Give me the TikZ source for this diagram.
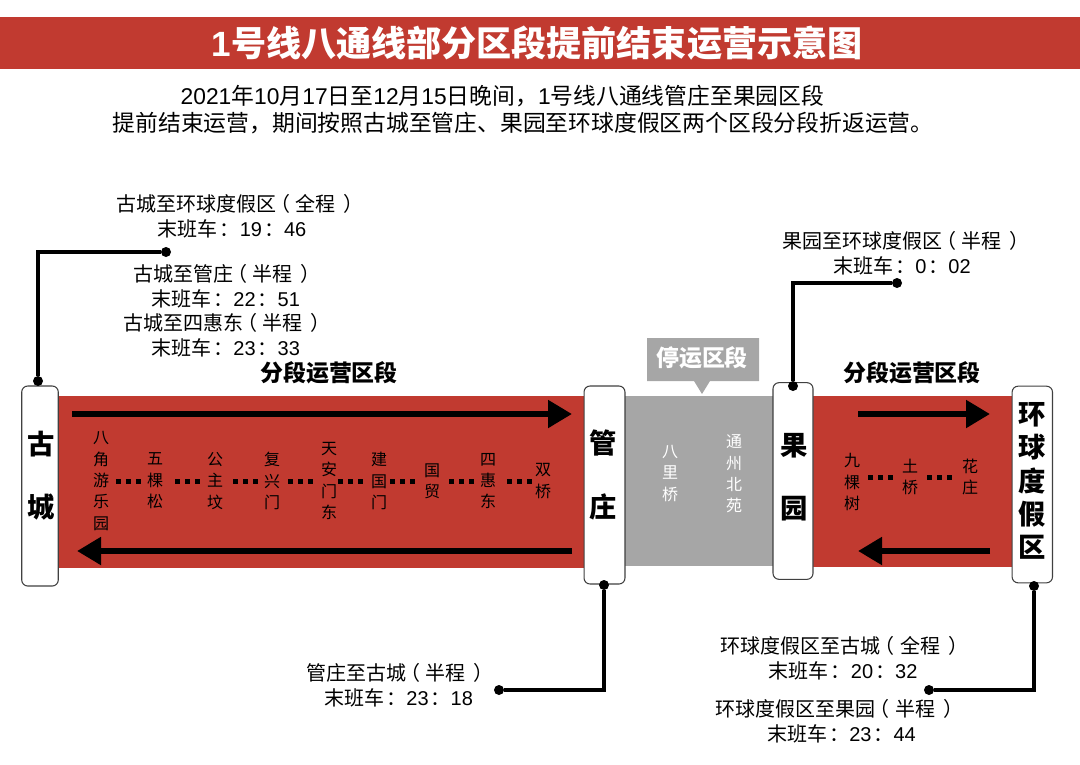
\documentclass[tikz,border=0pt]{standalone}
\usepackage{fontspec}
\setmainfont{Noto Sans CJK SC}
\newfontfamily\latinfont{Liberation Sans}
\usetikzlibrary{arrows.meta,positioning,calc}
\definecolor{bandred}{HTML}{C13A30}
\definecolor{stopgray}{HTML}{A6A6A6}
\newcommand{\nm}[1]{{\latinfont #1}}
\newcommand{\lp}{\kern-.28em（\kern.28em}
\newcommand{\rp}{\kern.38em）\kern-.38em}
\newcommand{\cln}{\kern.1em：}
\tikzset{
	band/.style={fill=bandred,draw=none},
	terminal/.style={draw=black!75,fill=white,rounded corners=4.5pt,line width=0.8pt,inner sep=0pt},
	termtext/.style={align=center,font=\fontsize{20.5}{47.5}\selectfont\bfseries,inner sep=0pt},
	station/.style={align=center,font=\fontsize{12}{16}\selectfont,inner sep=0pt},
	dots/.style={line width=3.75pt,dash pattern=on 3.75pt off 3.75pt},
	runarrow/.style={line width=5.2pt,-{Triangle[length=18pt,width=20pt]}},
	lastrun/.style={align=center,font=\fontsize{15}{18.7}\selectfont},
	pin/.style={circle,fill=black,inner sep=0pt,minimum size=7.5pt},
	lead/.style={line width=2.3pt},
	section/.style={font=\fontsize{17.2}{20}\selectfont\bfseries}
}
\begin{document}
\begin{tikzpicture}[x=0.75pt,y=-0.75pt]
	\useasboundingbox (0,0) rectangle (1080,764);
	% title
	\node[fill=bandred,minimum width=810pt,minimum height=39pt,inner sep=0pt,text=white,font=\fontsize{26.3}{30}\selectfont\bfseries] (title) at (540,43) {\hspace*{-4.5pt}\nm{\bfseries 1}号线八通线部分区段提前结束运营示意图};
	\node[font=\fontsize{17.1}{20.5}\selectfont,inner sep=0pt] (line1) at (502.5,96) {\nm{2021}年\nm{10}月\nm{17}日至\nm{12}月\nm{15}日晚间，\nm{1}号线八通线管庄至果园区段};
	\node[font=\fontsize{17.1}{20.5}\selectfont,inner sep=0pt] (line2) at (523,123) {提前结束运营，期间按照古城至管庄、果园至环球度假区两个区段分段折返运营。};

	% bands
	\fill[band] (58,396) rectangle (584,568);
	\fill[stopgray] (625,396) rectangle (773,566);
	\fill[band] (813,396) rectangle (1012,567);

	% terminals
	\node[terminal,minimum width=27.4pt,minimum height=150pt] (gucheng) at (40,486) {};
	\node[terminal,minimum width=30.7pt,minimum height=148.5pt] (guanzhuang) at (604.5,485) {};
	\node[terminal,minimum width=30pt,minimum height=147.5pt] (guoyuan) at (793,481) {};
	\node[terminal,minimum width=30.3pt,minimum height=147.5pt] (huanqiu) at (1032.3,484.5) {};
	\node[termtext] (gucheng-name) at (41,475.5) {古\\城};
	\node[termtext] (guanzhuang-name) at (603,475) {管\\庄};
	\node[termtext] (guoyuan-name) at (794,477) {果\\园};
	\node[termtext,font=\fontsize{20.5}{25}\selectfont\bfseries] (huanqiu-name) at (1032,481) {环\\球\\度\\假\\区};

	% stations
	\foreach \name/\px/\py/\label in {s1/101/481/{八\\角\\游\\乐\\园},s2/155/481/{五\\棵\\松},s3/215/481/{公\\主\\坟},s4/272/481/{复\\兴\\门},s5/329/481/{天\\安\\门\\东},s6/379/481/{建\\国\\门},s7/432/481/{国\\贸},s8/488/481/{四\\惠\\东},s9/543/481/{双\\桥},s10/852/482/{九\\棵\\树},s11/910/477/{土\\桥},s12/970/477/{花\\庄}}
		\node[station] (\name) at (\px,\py) {\label};
	\foreach \a/\b/\s/\e in {s1/s2/15/14,s2/s3/20/14,s3/s4/18/13,s4/s5/16/16,s5/s6/9/16,s6/s7/11/17,s7/s8/17/14,s8/s9/19/11,s10/s11/16/17,s11/s12/17/18}
		\draw[dots,shorten <=\s*0.75pt,shorten >=\e*0.75pt] (\a.center |- \b.center) -- (\b.center);
	\node[station,text=white] (bali) at (670,473.5) {八\\里\\桥};
	\node[station,text=white] (tongzhou) at (734,474) {通\\州\\北\\苑};

	% arrows
	\coordinate (a1) at (72,414);
	\coordinate (a2) at (572,414);
	\coordinate (b1) at (572,551);
	\coordinate (b2) at (77,551);
	\coordinate (c1) at (858,414);
	\coordinate (c2) at (990,414);
	\coordinate (d1) at (990,551);
	\coordinate (d2) at (858,551);
	\draw[runarrow] (a1) -- (a2);
	\draw[runarrow] (b1) -- (b2);
	\draw[runarrow] (c1) -- (c2);
	\draw[runarrow] (d1) -- (d2);

	% section labels
	\node[section] (left-sec) at (329,373) {分段运营区段};
	\node[section] (right-sec) at (912,373) {分段运营区段};
	\fill[stopgray] (647,338) rectangle (759,381) (694,381) -- (702,394) -- (710,381) -- cycle;
	\node[section,text=white] (stop-sec) at (702,358) {停运区段};

	% last trains
	\node[lastrun] (t1) at (236,216.5) {古城至环球度假区\lp 全程\rp\\\hspace*{-6pt}末班车\cln\nm{19}\cln\nm{46}};
	\node[lastrun] (t2) at (223,286.5) {古城至管庄\lp 半程\rp\\\hspace*{4pt}末班车\cln\nm{22}\cln\nm{51}};
	\node[lastrun] (t3) at (223,335.5) {古城至四惠东\lp 半程\rp\\\hspace*{4pt}末班车\cln\nm{23}\cln\nm{33}};
	\node[lastrun] (t4) at (902,253.5) {果园至环球度假区\lp 半程\rp\\末班车\cln\nm{0}\cln\nm{02}};
	\node[lastrun] (t5) at (396,685.5) {管庄至古城\lp 半程\rp\\\hspace*{4pt}末班车\cln\nm{23}\cln\nm{18}};
	\node[lastrun] (t6) at (840.5,658.5) {环球度假区至古城\lp 全程\rp\\\hspace*{4pt}末班车\cln\nm{20}\cln\nm{32}};
	\node[lastrun] (t7) at (835.5,721.5) {环球度假区至果园\lp 半程\rp\\\hspace*{9pt}末班车\cln\nm{23}\cln\nm{44}};

	% leaders
	\node[pin] (p1) at (38,381) {};
	\node[pin] (p2) at (166,252) {};
	\node[pin] (p3) at (793,386) {};
	\node[pin] (p4) at (897,283) {};
	\node[pin] (p5) at (604,585) {};
	\node[pin] (p6) at (499,690) {};
	\node[pin] (p7) at (1034,586) {};
	\node[pin] (p8) at (929,690) {};
	\draw[lead] (p1) |- (p2);
	\draw[lead] (p3) |- (p4);
	\draw[lead] (p5) |- (p6);
	\draw[lead] (p7) |- (p8);
\end{tikzpicture}
\end{document}
